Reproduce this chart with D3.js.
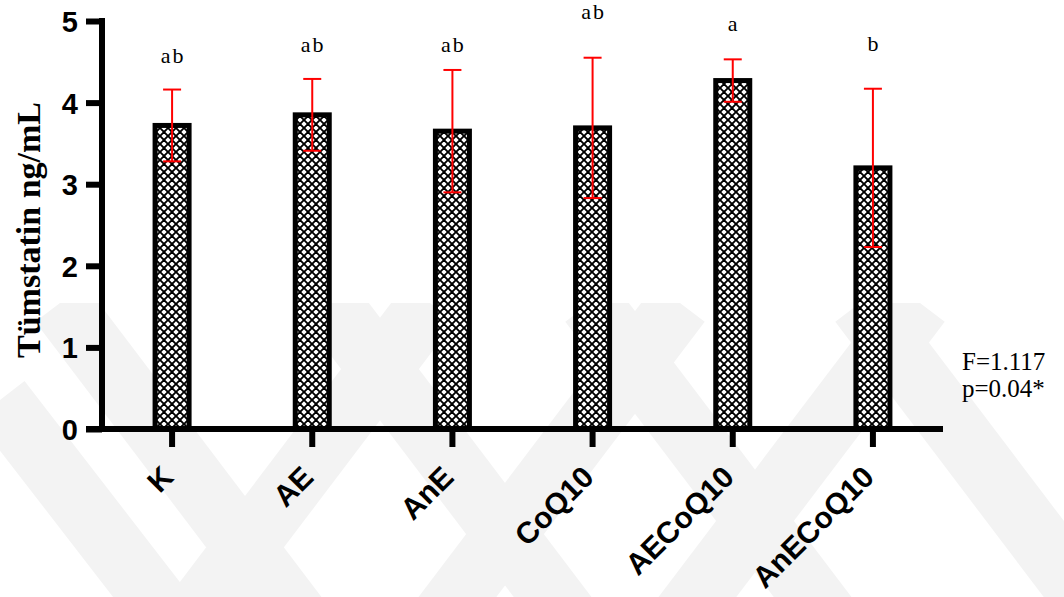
<!DOCTYPE html>
<html lang="tr">
<head>
<meta charset="utf-8">
<title>Tümstatin</title>
<script src="https://d3js.org/d3.v7.min.js"></script>
<style>
  body { margin: 0; background: #fff; }
  .ytick text { font-family: "Liberation Sans", Arial, sans-serif; font-weight: bold; font-size: 29px; }
  .xtick text { font-family: "Liberation Sans", Arial, sans-serif; font-weight: bold; font-size: 30px; }
  .ytitle { font-family: "Liberation Serif", "Times New Roman", serif; font-weight: bold; font-size: 34px; }
  .letter { font-family: "Liberation Serif", "Times New Roman", serif; font-size: 22px; letter-spacing: 2px; }
  .stat { font-family: "Liberation Serif", "Times New Roman", serif; font-size: 25px; }
</style>
</head>
<body>
<div id="chart"></div>
<script>
// data
var groups  = ["K", "AE", "AnE", "CoQ10", "AECoQ10", "AnECoQ10"];
var means   = [3.72, 3.85, 3.65, 3.69, 4.27, 3.20];
var sds     = [0.44, 0.44, 0.75, 0.86, 0.26, 0.97];
var letters = ["ab", "ab", "ab", "ab", "a", "b"];
var letterY = [4.49, 4.62, 4.62, 5.03, 4.88, 4.63];
var yTicks  = [0, 1, 2, 3, 4, 5];
var statLines = ["F=1.117", "p=0.04*"];

var w = 1064, h = 597;

var svg = d3.select("#chart").append("svg")
  .attr("width", w).attr("height", h);

var defs = svg.append("defs");

// faint watermark bands, cut at the top like the scan
defs.append("clipPath").attr("id", "wmclip")
  .append("rect").attr("x", 0).attr("y", 303).attr("width", w).attr("height", h - 303);
var wm = svg.append("g").attr("clip-path", "url(#wmclip)")
  .attr("stroke", "#f3f3f3").attr("stroke-width", 62).attr("fill", "none");
var bands = [
  [[60, 303], [300, 620]], [[430, 303], [190, 620]],
  [[330, 303], [570, 620]], [[680, 303], [440, 620]],
  [[590, 303], [830, 620]], [[920, 303], [680, 620]],
  [[860, 303], [1100, 620]], [[0, 400], [170, 620]]
];
wm.selectAll("line").data(bands).enter().append("line")
  .attr("x1", function(d) { return d[0][0]; }).attr("y1", function(d) { return d[0][1]; })
  .attr("x2", function(d) { return d[1][0]; }).attr("y2", function(d) { return d[1][1]; });

// hatch pattern
var pat = defs.append("pattern").attr("id", "hatch")
  .attr("patternUnits", "userSpaceOnUse")
  .attr("width", 8).attr("height", 8);
pat.append("rect").attr("width", 8).attr("height", 8).attr("fill", "#fff");
pat.append("path").attr("d", "M0,0L8,8M0,8L8,0M-1,1L1,-1M7,9L9,7M-1,7L1,9M7,-1L9,1")
  .attr("stroke", "#000").attr("stroke-width", 1.9);

var x = d3.scaleBand().domain(groups).range([102, 943]);
var y = d3.scaleLinear().domain([0, 5]).range([429, 21]);
var cx = function(d) { return x(d) + x.bandwidth() / 2; };
var barW = 34;

// bars
svg.append("g").selectAll("rect").data(groups).enter().append("rect")
  .attr("x", function(d) { return cx(d) - barW / 2; })
  .attr("y", function(d, i) { return y(means[i]); })
  .attr("width", barW)
  .attr("height", function(d, i) { return y(0) - y(means[i]); })
  .attr("fill", "url(#hatch)")
  .attr("stroke", "#000").attr("stroke-width", 5);

// error bars
var eb = svg.append("g").attr("stroke", "#ff0000").attr("stroke-width", 2).attr("fill", "none");
groups.forEach(function(g, i) {
  var c = cx(g), hi = y(means[i] + sds[i]), lo = y(means[i] - sds[i]);
  eb.append("line").attr("x1", c).attr("x2", c).attr("y1", hi).attr("y2", lo);
  eb.append("line").attr("x1", c - 9).attr("x2", c + 9).attr("y1", hi).attr("y2", hi);
  eb.append("line").attr("x1", c - 9).attr("x2", c + 9).attr("y1", lo).attr("y2", lo);
});

// significance letters
svg.append("g").selectAll("text").data(groups).enter().append("text")
  .attr("class", "letter")
  .attr("x", function(d) { return cx(d) + 1; })
  .attr("y", function(d, i) { return y(letterY[i]); })
  .attr("text-anchor", "middle")
  .text(function(d, i) { return letters[i]; });

// y axis
var yAxis = svg.append("g").attr("class", "ytick")
  .attr("transform", "translate(102,0)")
  .call(d3.axisLeft(y).tickValues(yTicks).tickFormat(d3.format("d")).tickSize(16).tickPadding(8));
yAxis.select(".domain").attr("d", "M0," + (y(5) - 3) + "V" + (y(0) + 3)).attr("stroke-width", 6);
yAxis.selectAll(".tick line").attr("stroke-width", 6);
yAxis.selectAll("text").attr("fill", "#000").attr("dy", "0.36em");

// x axis
var xAxis = svg.append("g").attr("class", "xtick")
  .attr("transform", "translate(0," + y(0) + ")")
  .call(d3.axisBottom(x).tickSize(18).tickSizeOuter(0).tickPadding(0));
xAxis.select(".domain").attr("d", "M86,0H943").attr("stroke-width", 6);
xAxis.selectAll(".tick line").attr("stroke-width", 6);
xAxis.selectAll(".tick text")
  .attr("fill", "#000")
  .attr("text-anchor", "end")
  .attr("x", 0).attr("y", 0).attr("dy", 0)
  .attr("transform", "translate(3,50) rotate(-45)");

// y title
svg.append("text").attr("class", "ytitle")
  .attr("transform", "translate(40,230) rotate(-90)")
  .attr("text-anchor", "middle")
  .text("Tümstatin ng/mL");

// stats
svg.append("g").selectAll("text").data(statLines).enter().append("text")
  .attr("class", "stat")
  .attr("x", 962)
  .attr("y", function(d, i) { return 370 + i * 27; })
  .text(function(d) { return d; });
</script>
</body>
</html>
